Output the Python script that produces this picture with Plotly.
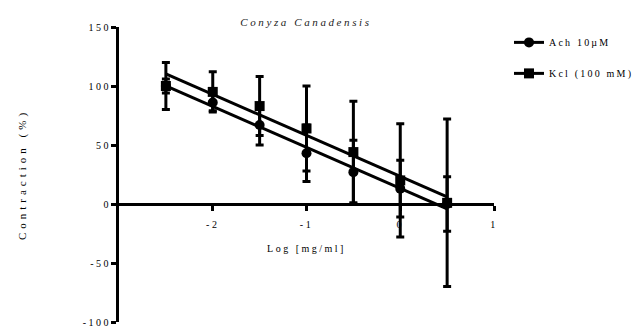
import numpy as np
import plotly.graph_objects as go

# ---- data ----
log_conc = [-2.5, -2.0, -1.5, -1.0, -0.5, 0.0, 0.5]
ach_mean = [100, 86, 67, 43, 27, 13, 0]
ach_err = [6, 7, 17, 24, 27, 24, 23]
kcl_mean = [100, 95, 83, 64, 44, 20, 1]
kcl_err = [20, 17, 25, 36, 43, 48, 71]

series_names = ["Ach 10\u00b5M", "Kcl (100 mM)"]
x_tickvals = [-2, -1, 0, 1]
x_ticktext = ["-2", "-1", "0", "1"]
y_tickvals = [150, 100, 50, 0, -50, -100]
y_ticktext = ["150", "100", "50", "0", "-50", "-100"]

title_text = "Conyza Canadensis"
x_title = "Log [mg/ml]"
y_title = "Contraction (%)"

FONT = "Liberation Serif"
BLACK = "#000000"

fig = go.Figure()

# linear regression lines from the data
xs = np.array(log_conc)
fit_x = [min(log_conc), max(log_conc)]
for ys in (ach_mean, kcl_mean):
    slope, intercept = np.polyfit(xs, np.array(ys), 1)
    fig.add_trace(go.Scatter(
        x=fit_x, y=[slope * v + intercept for v in fit_x],
        mode="lines", line=dict(color=BLACK, width=3),
        showlegend=False, hoverinfo="skip"))

# data points with error bars
for ys, es, sym, size in ((ach_mean, ach_err, "circle", 10),
                          (kcl_mean, kcl_err, "square", 10)):
    fig.add_trace(go.Scatter(
        x=log_conc, y=ys, mode="markers",
        marker=dict(symbol=sym, size=size, color=BLACK),
        error_y=dict(type="data", array=es, visible=True,
                     color=BLACK, thickness=3, width=4),
        showlegend=False))

# legend entries (line + marker icon)
for name, sym, grp in ((series_names[0], "circle", "a"),
                       (series_names[1], "square", "b")):
    fig.add_trace(go.Scatter(
        x=[None], y=[None], mode="lines+markers", name=name,
        legendgroup=grp,
        line=dict(color=BLACK, width=3),
        marker=dict(symbol=sym, size=10, color=BLACK)))

# page body has an 8px margin: size the figure to the remaining area
fig.update_layout(
    width=634, height=319,
    margin=dict(l=111, r=148, t=19, b=5, autoexpand=False),
    paper_bgcolor="white", plot_bgcolor="white",
    font=dict(family=FONT, size=10, color=BLACK),
    title=dict(text="<i>" + title_text + "</i>", x=0.470, xanchor="center",
               y=0.956, yanchor="middle", automargin=False,
               font=dict(family=FONT, size=11, color="#222222")),
    legend=dict(x=1.04, xanchor="left", y=0.997, yanchor="top",
                font=dict(family=FONT, size=10, color=BLACK),
                tracegroupgap=12, bgcolor="rgba(0,0,0,0)"),
    xaxis=dict(range=[-3, 1], tickvals=x_tickvals, ticktext=x_ticktext,
               anchor="free", position=0.4, automargin=False,
               showline=True, linecolor=BLACK, linewidth=3,
               ticks="outside", ticklen=5, tickwidth=3, tickcolor=BLACK,
               showgrid=False, zeroline=False,
               ticklabelstandoff=5,
               title=dict(text=x_title, standoff=15,
                          font=dict(family=FONT, size=10))),
    yaxis=dict(range=[-100, 150], tickvals=y_tickvals, ticktext=y_ticktext,
               automargin=False,
               showline=True, linecolor=BLACK, linewidth=3,
               ticks="outside", ticklen=5, tickwidth=3, tickcolor=BLACK,
               showgrid=False, zeroline=False,
               ticklabelstandoff=-2, ticklabeloverflow="allow",
               title=dict(text=y_title, standoff=64,
                          font=dict(family=FONT, size=11))),
)

post = """
var gd = document.getElementById('{plot_id}');
function applySpacing(){
  var rules = [['.xtick text','2.5px'],['.ytick text','2.5px'],
               ['.g-gtitle text','2.6px'],['.g-xtitle text','2.5px'],
               ['.g-ytitle text','4px'],['.legendtext','2.2px']];
  rules.forEach(function(r){
    gd.querySelectorAll(r[0]).forEach(function(t){ t.style.letterSpacing = r[1]; });
  });
  gd.querySelectorAll('.legend [clip-path]').forEach(function(e){
    e.removeAttribute('clip-path');
  });
}
applySpacing();
gd.on('plotly_afterplot', applySpacing);
"""

fig.write_html("out.html", post_script=post)
